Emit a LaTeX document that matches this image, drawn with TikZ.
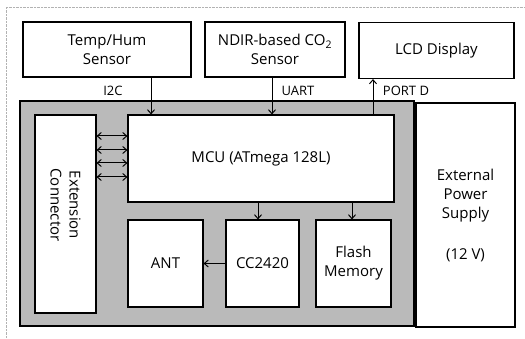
\documentclass[tikz,border=0pt]{standalone}
\usepackage{fontspec}
\setmainfont{Open Sans}
\usetikzlibrary{arrows.meta}
\begin{document}
\begin{tikzpicture}[
x=1pt, y=-1pt,
>={Straight Barb[length=4pt,width=7pt]},
blk/.style={draw, line width=1.1pt, fill=white, align=center, inner sep=2pt, font=\fontsize{15}{19}\selectfont},
lbl/.style={font=\fontsize{13}{15}\selectfont},
link/.style={line width=1pt}
]
\useasboundingbox (0,0) rectangle (525,339);
\draw[gray!60, densely dotted] (6,339) -- (6,7) -- (525,7);

% sensors and display
\node[blk, minimum width=168, minimum height=55] (temp) at (107,49.5) {Temp/Hum\\Sensor};
\node[blk, minimum width=140, minimum height=55] (ndir) at (275,49.5) {NDIR-based CO\textsubscript{2}\\Sensor};
\node[blk, minimum width=155, minimum height=56] (lcd) at (436.5,50.5) {LCD Display};

% board
\draw[line width=1.4pt, fill=black!27] (20,101) rectangle (414,326);
\node[blk, minimum width=99, minimum height=224] (power) at (465.5,215)
  {External\\Power\\Supply\\[22pt](12 V)};

\node[blk, minimum width=61, minimum height=198] (ext) at (65.5,214) {};
\node[font=\fontsize{15}{19}\selectfont, align=center, rotate=-90] (extlabel) at ([yshift=9pt]ext.center) {Extension\\Connector};
\node[blk, minimum width=266, minimum height=87] (mcu) at (261,158.5) {MCU (ATmega 128L)};
\node[blk, minimum width=75, minimum height=87] (ant) at (165.5,263.5) {ANT};
\node[blk, minimum width=73, minimum height=87] (cc) at (262.5,263.5) {CC2420};
\node[blk, minimum width=75, minimum height=87] (flash) at (353.5,263.5) {Flash\\Memory};

% buses
\draw[link, ->] ([xshift=44pt]temp.south) -- ([xshift=44pt]temp.south |- mcu.north);
\draw[link, ->] ([xshift=-3pt]ndir.south) -- ([xshift=-3pt]ndir.south |- mcu.north);
\draw[link, ->] ([xshift=-63.5pt]lcd.south |- mcu.north) -- ([xshift=-63.5pt]lcd.south);
\node[lbl] (i2c) at (113,91) {I2C};
\node[lbl] (uart) at (298,91) {UART};
\node[lbl] (portd) at (406,91) {PORT D};

\foreach \y in {136,150,163,177}
  \draw[link, <->] (ext.east |- 0,\y) -- (mcu.west |- 0,\y);

\draw[link, ->] ([xshift=-4.5pt]cc.north |- mcu.south) -- ([xshift=-4.5pt]cc.north);
\draw[link, ->] ([xshift=-1.5pt]flash.north |- mcu.south) -- ([xshift=-1.5pt]flash.north);
\draw[link, ->] (cc.west) -- (ant.east);
\end{tikzpicture}
\end{document}
